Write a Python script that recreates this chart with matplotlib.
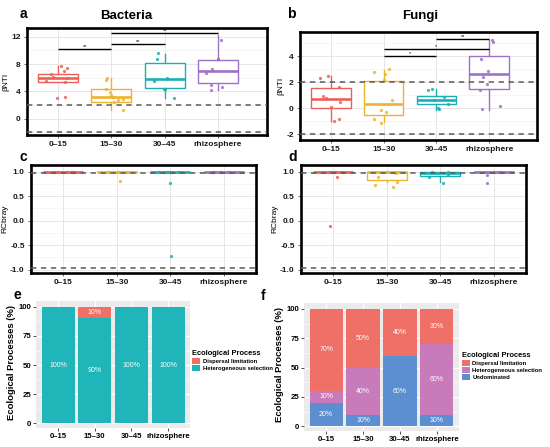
import numpy as np
import matplotlib
matplotlib.use('Agg')
import matplotlib.pyplot as plt
from matplotlib.patches import Patch

plt.rcParams['font.family'] = ['Liberation Sans', 'DejaVu Sans']

# ---------------- data ----------------
groups = ['0–15', '15–30', '30–45', 'rhizosphere']
group_colors = ['#EE5F57', '#EDB32B', '#1BB0B6', '#9E72C6']

# (a) Bacteria betaNTI
bac_nti_whislo = [5.3, 1.3, 3.1, 4.2]
bac_nti_q1 = [5.4, 2.4, 4.5, 5.2]
bac_nti_med = [5.95, 3.2, 5.8, 7.0]
bac_nti_q3 = [6.6, 4.3, 8.1, 8.6]
bac_nti_whishi = [7.7, 5.9, 9.4, 12.3]
bac_nti_points = [
    [7.7, 7.4, 7.0, 6.5, 6.1, 5.9, 5.5, 5.4, 3.2, 3.0],
    [5.9, 5.6, 4.4, 3.95, 3.5, 3.2, 2.9, 2.7, 2.4, 1.3],
    [9.6, 8.8, 6.0, 5.7, 5.5, 4.3, 4.3, 3.1],
    [11.5, 8.8, 8.7, 7.3, 6.7, 5.0, 4.7, 4.2],
]
bac_sig_from = [1, 2, 2]
bac_sig_to = [2, 3, 4]
bac_sig_y = [10.2, 10.95, 12.55]
bac_sig_label = ['**', '**', '**']

# (b) Fungi betaNTI
fun_nti_whislo = [-0.95, -1.03, -0.13, -0.13]
fun_nti_q1 = [0.0, -0.51, 0.31, 1.46]
fun_nti_med = [0.72, 0.31, 0.64, 2.64]
fun_nti_q3 = [1.54, 2.13, 0.97, 4.03]
fun_nti_whishi = [2.5, 2.95, 1.46, 5.26]
fun_nti_points = [
    [2.5, 2.3, 1.67, 0.97, 0.8, 0.46, 0.13, -0.85, -0.95],
    [3.0, 2.8, 2.6, 2.2, 0.64, -0.13, -0.3, -0.85, -1.1],
    [1.46, 1.4, 0.85, 0.6, 0.3, 0.0, -0.05],
    [5.26, 5.08, 3.77, 2.9, 2.43, 1.85, 1.4, 0.18, -0.08],
]
fun_sig_from = [2, 2, 3]
fun_sig_to = [3, 4, 4]
fun_sig_y = [4.0, 4.54, 5.3]
fun_sig_label = ['*', '*', '**']

# (c) Bacteria RCbray
bac_rc_whislo = [0.99, 0.985, 0.985, 0.99]
bac_rc_q1 = [0.99, 0.985, 0.985, 0.99]
bac_rc_med = [1.0, 1.0, 1.0, 1.0]
bac_rc_q3 = [1.0, 1.0, 1.0, 1.0]
bac_rc_whishi = [1.0, 1.0, 1.0, 1.0]
bac_rc_points = [
    [1.0, 1.0, 1.0, 1.0, 1.0, 1.0, 1.0, 1.0],
    [1.0, 1.0, 1.0, 1.0, 1.0, 1.0, 1.0, 0.82],
    [1.0, 1.0, 1.0, 1.0, 1.0, 1.0, 0.77, -0.73],
    [1.0, 1.0, 1.0, 1.0, 1.0, 1.0, 1.0, 1.0],
]

# (d) Fungi RCbray
fun_rc_whislo = [0.99, 0.78, 0.78, 0.99]
fun_rc_q1 = [0.99, 0.83, 0.91, 0.99]
fun_rc_med = [1.0, 0.99, 0.97, 1.0]
fun_rc_q3 = [1.0, 1.0, 1.0, 1.0]
fun_rc_whishi = [1.0, 1.0, 1.0, 1.0]
fun_rc_points = [
    [1.0, 1.0, 1.0, 1.0, 1.0, 0.9, -0.1],
    [1.0, 1.0, 0.98, 0.9, 0.78, 0.72, 0.68],
    [1.0, 1.0, 0.97, 0.93, 0.9, 0.76],
    [1.0, 1.0, 1.0, 0.94, 0.76],
]

# (e) Bacteria ecological processes (%)
e_heterogeneous = [100, 90, 100, 100]
e_dispersal = [0, 10, 0, 0]

# (f) Fungi ecological processes (%)
f_undominated = [20, 10, 60, 10]
f_heterogeneous = [10, 40, 0, 60]
f_dispersal = [70, 50, 40, 30]

c_disp = '#EE7066'
c_het_e = '#1FB5B9'
c_het_f = '#C97ABB'
c_undom = '#5C8ED2'

# ---------------- figure ----------------
W, H = 550, 447
fig = plt.figure(figsize=(W / 100, H / 100), dpi=100)


def rect(l, t, r, b):
    return [l / W, 1 - b / H, (r - l) / W, (b - t) / H]


TICK_FS = 6.0
rng = np.random.default_rng(7)


def box_panel(ax, whislo, q1, med, q3, whishi, points, xlim, ylim, major,
              minor, ticklabels, ylabel, hlines):
    pos = np.arange(1, len(groups) + 1)
    stats = [dict(whislo=whislo[i], q1=q1[i], med=med[i], q3=q3[i],
                  whishi=whishi[i]) for i in range(len(groups))]
    bp = ax.bxp(stats, positions=pos, widths=0.75, showfliers=False,
                showcaps=False, patch_artist=True,
                boxprops=dict(lw=1.0), medianprops=dict(lw=1.9),
                whiskerprops=dict(lw=1.0), zorder=2)
    for i, c in enumerate(group_colors):
        bp['boxes'][i].set_facecolor('white')
        bp['boxes'][i].set_edgecolor(c)
        bp['medians'][i].set_color(c)
        bp['whiskers'][2 * i].set_color(c)
        bp['whiskers'][2 * i + 1].set_color(c)
        vals = np.array(points[i])
        jit = rng.uniform(-0.22, 0.22, len(vals))
        ax.scatter(pos[i] + jit, vals, s=5.5, color=c, alpha=0.85,
                   linewidths=0, zorder=3)
    for h in hlines:
        ax.axhline(h, color='#5A5A5A', lw=1.1, ls=(0, (3.5, 3)), zorder=4)
    ax.set_xlim(*xlim)
    ax.set_ylim(*ylim)
    ax.set_xticks(pos)
    ax.set_xticklabels(groups, fontsize=TICK_FS, fontweight='bold')
    ax.set_yticks(major)
    ax.set_yticklabels(ticklabels, fontsize=TICK_FS, fontweight='bold')
    ax.set_yticks(minor, minor=True)
    ax.grid(True, which='major', color='#E2E2E2', lw=0.6)
    ax.grid(True, which='minor', axis='y', color='#EFEFEF', lw=0.4)
    ax.set_axisbelow(True)
    for s in ax.spines.values():
        s.set_linewidth(1.9)
        s.set_color('black')
    ax.tick_params(which='major', length=2, width=0.5, color='#333333',
                   pad=2.5, labelcolor='#1A1A1A')
    ax.tick_params(which='minor', length=0)
    ax.set_ylabel(ylabel, fontsize=6, labelpad=1)


def sig_bars(ax, x1s, x2s, ys, labels):
    for x1, x2, y, lab in zip(x1s, x2s, ys, labels):
        ax.plot([x1, x2], [y, y], color='black', lw=1.0, zorder=5,
                solid_capstyle='butt')
        ax.text((x1 + x2) / 2, y, lab, ha='center', va='bottom',
                fontsize=4, zorder=5)


ax_a = fig.add_axes(rect(27, 28, 267, 135))
box_panel(ax_a, bac_nti_whislo, bac_nti_q1, bac_nti_med, bac_nti_q3,
          bac_nti_whishi, bac_nti_points, (0.42, 4.92), (-2.39, 13.28),
          [0, 4, 8, 12], [-2, 2, 6, 10], ['0', '4', '8', '12'], 'βNTI',
          [2, -2])
sig_bars(ax_a, bac_sig_from, bac_sig_to, bac_sig_y, bac_sig_label)

ax_b = fig.add_axes(rect(300, 32, 537, 140))
box_panel(ax_b, fun_nti_whislo, fun_nti_q1, fun_nti_med, fun_nti_q3,
          fun_nti_whishi, fun_nti_points, (0.41, 4.91), (-2.44, 5.87),
          [-2, 0, 2, 4], [-1, 1, 3, 5], ['-2', '0', '2', '4'], 'βNTI',
          [2, -2])
sig_bars(ax_b, fun_sig_from, fun_sig_to, fun_sig_y, fun_sig_label)

rc_major = [-1.0, -0.5, 0.0, 0.5, 1.0]
rc_minor = [-0.75, -0.25, 0.25, 0.75]
rc_labels = ['-1.0', '-0.5', '0.0', '0.5', '1.0']

ax_c = fig.add_axes(rect(31, 165, 256, 273))
box_panel(ax_c, bac_rc_whislo, bac_rc_q1, bac_rc_med, bac_rc_q3,
          bac_rc_whishi, bac_rc_points, (0.4, 4.6), (-1.07, 1.137),
          rc_major, rc_minor, rc_labels, 'RCbray', [0.97, -0.96])

ax_d = fig.add_axes(rect(301, 165, 526, 273))
box_panel(ax_d, fun_rc_whislo, fun_rc_q1, fun_rc_med, fun_rc_q3,
          fun_rc_whishi, fun_rc_points, (0.4, 4.6), (-1.07, 1.137),
          rc_major, rc_minor, rc_labels, 'RCbray', [0.97, -0.96])

BAR_FS = 5.6


def bar_panel(ax, layers):
    pos = np.arange(1, len(groups) + 1)
    ax.set_facecolor('#EBEBEB')
    bottom = np.zeros(len(groups))
    for vals, col in layers:
        vals = np.array(vals, dtype=float)
        ax.bar(pos, vals, bottom=bottom, width=0.9, color=col, zorder=2,
               linewidth=0)
        for i, v in enumerate(vals):
            if v > 0:
                ax.text(pos[i], bottom[i] + v / 2, f'{int(v)}%', ha='center',
                        va='center', color='white', fontsize=5, zorder=3)
        bottom += vals
    ax.set_xlim(0.4, 4.6)
    ax.set_ylim(-4, 105)
    ax.set_xticks(pos)
    ax.set_xticklabels(groups, fontsize=BAR_FS, fontweight='bold')
    ax.set_yticks([0, 25, 50, 75, 100])
    ax.set_yticklabels(['0', '25', '50', '75', '100'], fontsize=BAR_FS,
                       fontweight='bold')
    ax.set_yticks([12.5, 37.5, 62.5, 87.5], minor=True)
    ax.grid(True, which='major', color='white', lw=0.8)
    ax.grid(True, which='minor', axis='y', color='white', lw=0.4)
    ax.set_axisbelow(True)
    for s in ax.spines.values():
        s.set_visible(False)
    ax.tick_params(which='major', length=2, width=0.6, color='#333333',
                   pad=1.5, labelcolor='black')
    ax.tick_params(which='minor', length=0)


ax_e = fig.add_axes(rect(36, 301, 190, 428))
bar_panel(ax_e, [(e_heterogeneous, c_het_e), (e_dispersal, c_disp)])
fig.text(12 / W, 1 - 362 / H, 'Ecological Processes (%)', rotation=90,
         ha='center', va='center', fontsize=6.8, fontweight='bold')

ax_f = fig.add_axes(rect(304, 303, 459, 431))
bar_panel(ax_f, [(f_undominated, c_undom), (f_heterogeneous, c_het_f),
                 (f_dispersal, c_disp)])
fig.text(280 / W, 1 - 364 / H, 'Ecological Processes (%)', rotation=90,
         ha='center', va='center', fontsize=6.8, fontweight='bold')

leg_kw = dict(loc='upper left', frameon=False,
              prop={'size': 4.2, 'weight': 'bold'},
              title_fontproperties={'size': 5.4, 'weight': 'bold'},
              handlelength=1.3, handleheight=1.1, handletextpad=0.5,
              labelspacing=0.2, borderaxespad=0, borderpad=0,
              alignment='left')
fig.legend(handles=[Patch(facecolor=c_disp, label='Dispersal limitation'),
                    Patch(facecolor=c_het_e, label='Heterogeneous selection')],
           title='Ecological Process', bbox_to_anchor=(192 / W, 1 - 350 / H),
           **leg_kw)
fig.legend(handles=[Patch(facecolor=c_disp, label='Dispersal limitation'),
                    Patch(facecolor=c_het_f, label='Heterogeneous selection'),
                    Patch(facecolor=c_undom, label='Undominated')],
           title='Ecological Process', bbox_to_anchor=(462 / W, 1 - 352 / H),
           **leg_kw)

# panel letters and titles
for lab, x, y in [('a', 23, 14), ('b', 291, 14), ('c', 23, 157),
                  ('d', 293, 157), ('e', 17, 295), ('f', 263, 296)]:
    fig.text(x / W, 1 - y / H, lab, ha='center', va='center', fontsize=10,
             fontweight='bold')
fig.text(126 / W, 1 - 16 / H, 'Bacteria', ha='center', va='center',
         fontsize=9.5, fontweight='bold')
fig.text(420 / W, 1 - 16 / H, 'Fungi', ha='center', va='center',
         fontsize=9.5, fontweight='bold')

fig.savefig('out.png', dpi=100)
